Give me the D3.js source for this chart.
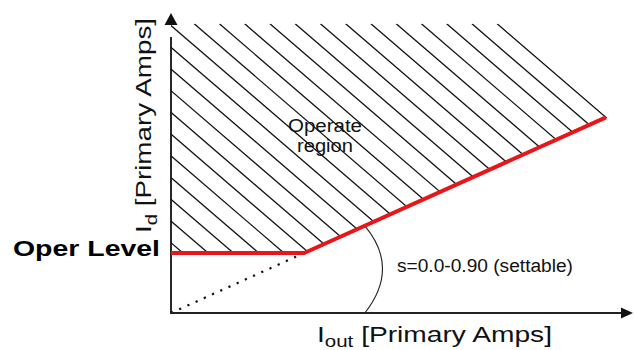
<!DOCTYPE html>
<html>
<head>
<meta charset="utf-8">
<script src="https://cdn.jsdelivr.net/npm/d3@7"></script>
<style>
  html, body { margin: 0; padding: 0; background: #fff; }
  svg { display: block; }
  text { font-family: "Liberation Sans", Arial, Helvetica, sans-serif; fill: #111; }
</style>
</head>
<body>
<svg id="chart" width="635" height="350"></svg>
<script>
// Differential relay characteristic: Id (differential) vs Iout (restraint)
const charIout = [0, 2.22, 7.25];     // operating characteristic, Iout
const charId   = [1.0, 1.0, 3.26];    // operating characteristic, Id
const slopeIout = [0, 2.22];          // slope line continued back to origin
const slopeId   = [0, 1.0];
const operLevelLabel = "Oper Level";
const slopeLabel = "s=0.0-0.90 (settable)";
const regionLabel = ["Operate", "region"];
const xLabel = { main: "I", sub: "out", rest: " [Primary Amps]" };
const yLabel = { main: "I", sub: "d", rest: " [Primary Amps]" };

const svg = d3.select("#chart");
const x = d3.scaleLinear().domain([0, 7.7]).range([171, 633]);
const y = d3.scaleLinear().domain([0, 5]).range([313, 13]);

const charPts = charIout.map((v, i) => [x(v), y(charId[i])]);
const redEnd = charPts[charPts.length - 1];
const brk = charPts[1];

// Hatched operate region, lines anchored at the end of the characteristic
const hatchTop = y(4.82);
const hatchSlope = 0.86;       // dy/dx in pixels
const hatchStep = 25.25;       // horizontal spacing in pixels
const lastTopX = redEnd[0] - (redEnd[1] - hatchTop) / hatchSlope;

const defs = svg.append("defs");
defs.append("clipPath").attr("id", "opClip")
  .append("path")
  .attr("d", d3.line()([
    [x(0), hatchTop],
    [lastTopX + 1.5, hatchTop],
    [redEnd[0] + 1.5, redEnd[1]],
    brk,
    charPts[0]
  ]) + "Z");

const hatchStarts = d3.range(0, 30).map(k => lastTopX - k * hatchStep);
svg.append("g").attr("clip-path", "url(#opClip)")
  .selectAll("line").data(hatchStarts).join("line")
  .attr("x1", d => d).attr("y1", hatchTop)
  .attr("x2", d => d + 400).attr("y2", hatchTop + 400 * hatchSlope)
  .attr("stroke", "#111").attr("stroke-width", 1.3);

// Dotted slope line through the origin
svg.append("path")
  .attr("d", d3.line()(slopeIout.map((v, i) => [x(v), y(slopeId[i])])))
  .attr("fill", "none").attr("stroke", "#111")
  .attr("stroke-width", 2.2).attr("stroke-dasharray", "2.2,6.8");

// Angle marker for the slope
const arcStartIout = 3.23;
const arcPath = d3.path();
arcPath.moveTo(x(arcStartIout), y(arcStartIout * 0.45));
arcPath.quadraticCurveTo(x(3.82), y(0.75), x(arcStartIout), y(0));
svg.append("path").attr("d", arcPath.toString())
  .attr("fill", "none").attr("stroke", "#222").attr("stroke-width", 1.1);

// Axes with arrowheads
svg.append("line")
  .attr("x1", x(0)).attr("y1", y(0) + 1).attr("x2", x(0)).attr("y2", y(4.6))
  .attr("stroke", "#111").attr("stroke-width", 1.8);
svg.append("line")
  .attr("x1", x(0)).attr("y1", y(0)).attr("x2", x(7.55)).attr("y2", y(0))
  .attr("stroke", "#222").attr("stroke-width", 1.8);
svg.append("path")
  .attr("d", d3.line()([[x(0), y(5)], [x(0) - 6.5, y(4.8)], [x(0) + 6.5, y(4.8)]]) + "Z")
  .attr("fill", "#111");
svg.append("path")
  .attr("d", d3.line()([[x(7.7), y(0)], [x(7.5), y(0) - 5.5], [x(7.5), y(0) + 5.5]]) + "Z")
  .attr("fill", "#111");

// Operating characteristic
svg.append("path")
  .attr("d", d3.line()(charPts))
  .attr("fill", "none").attr("stroke", "#e8161b")
  .attr("stroke-width", 4).attr("stroke-linejoin", "round");

// Labels
svg.append("text").attr("x", 325).attr("y", 132)
  .attr("text-anchor", "middle").attr("font-size", 18)
  .attr("textLength", 74).attr("lengthAdjust", "spacingAndGlyphs")
  .text(regionLabel[0]);
svg.append("text").attr("x", 325).attr("y", 152)
  .attr("text-anchor", "middle").attr("font-size", 18)
  .attr("textLength", 56).attr("lengthAdjust", "spacingAndGlyphs")
  .text(regionLabel[1]);

svg.append("text").attr("x", 13).attr("y", y(charId[0]) + 3)
  .attr("font-size", 22).attr("font-weight", "bold").style("fill", "#000")
  .attr("textLength", 147).attr("lengthAdjust", "spacingAndGlyphs")
  .text(operLevelLabel);

svg.append("text").attr("x", 397).attr("y", 272)
  .attr("font-size", 18)
  .attr("textLength", 176).attr("lengthAdjust", "spacingAndGlyphs")
  .text(slopeLabel);

const xl = svg.append("text").attr("x", 317).attr("y", 342)
  .attr("font-size", 22)
  .attr("textLength", 235).attr("lengthAdjust", "spacingAndGlyphs");
xl.append("tspan").text(xLabel.main);
xl.append("tspan").attr("font-size", 16).attr("dy", 5).text(xLabel.sub);
xl.append("tspan").attr("dy", -5).text(xLabel.rest);

const yl = svg.append("text")
  .attr("transform", "translate(151,233) rotate(-90)")
  .attr("font-size", 22)
  .attr("textLength", 215).attr("lengthAdjust", "spacingAndGlyphs");
yl.append("tspan").text(yLabel.main);
yl.append("tspan").attr("font-size", 16).attr("dy", 6).text(yLabel.sub);
yl.append("tspan").attr("dy", -6).text(yLabel.rest);
</script>
</body>
</html>
